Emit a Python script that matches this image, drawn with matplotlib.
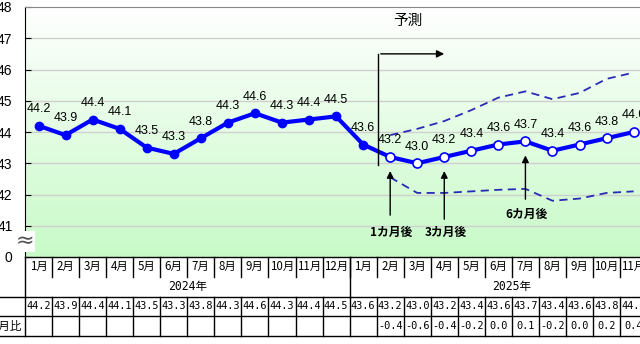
import numpy as np
import matplotlib
matplotlib.use('Agg')
import matplotlib.pyplot as plt
from matplotlib.colors import LinearSegmentedColormap

# 月ラベル（2024年1月〜2025年12月）
months = [f'{m}月' for m in range(1, 13)] * 2
years = ['2024年', '2025年']

# 実績（2024年1月〜2025年1月）
actual = [44.2, 43.9, 44.4, 44.1, 43.5, 43.3, 43.8, 44.3, 44.6, 44.3, 44.4, 44.5, 43.6]
# 予測（2025年2月〜11月）
forecast = [43.2, 43.0, 43.2, 43.4, 43.6, 43.7, 43.4, 43.6, 43.8, 44.0]
upper = [43.9, 44.1, 44.35, 44.7, 45.1, 45.3, 45.05, 45.25, 45.7, 45.9]
lower = [42.55, 42.05, 42.05, 42.1, 42.15, 42.18, 41.8, 41.87, 42.05, 42.1]
# 1月比
diff = [-0.4, -0.6, -0.4, -0.2, 0.0, 0.1, -0.2, 0.0, 0.2, 0.4]

yticks = [40, 41, 42, 43, 44, 45, 46, 47, 48]
ytick_labels = ['0', '41', '42', '43', '44', '45', '46', '47', '48']

JP = ['Noto Sans CJK JP', 'DejaVu Sans']
MONO = ['DejaVu Sans Mono', 'Noto Sans CJK JP']

W, H = 640, 344
col_w = 27.05
n_cols = 24
ax_left, ax_top, ax_bot, tbl_bot = 25, 7, 257, 336

fig = plt.figure(figsize=(W / 100, H / 100), dpi=100)
fig.patch.set_facecolor('white')
ax = fig.add_axes([ax_left / W, (H - ax_bot) / H, n_cols * col_w / W, (ax_bot - ax_top) / H])
tb = fig.add_axes([ax_left / W, (H - tbl_bot) / H, n_cols * col_w / W, (tbl_bot - ax_bot) / H])

# 背景グラデーション
cmap = LinearSegmentedColormap.from_list('g', ['#ffffff', '#c8fac8'])
ax.imshow(np.linspace(0, 1, 256).reshape(-1, 1), extent=[0, 1, 0, 1], transform=ax.transAxes,
          cmap=cmap, aspect='auto', zorder=0)

xa = np.arange(len(actual))
xf = np.arange(len(actual), len(actual) + len(forecast))
x_all = np.concatenate([xa, xf])
y_all = actual + forecast

for y in yticks[1:-1]:
    ax.axhline(y, color='#cfcfcf', lw=1, zorder=1)

ax.plot(xf, upper, color='#2a2ab8', lw=1.3, ls=(0, (4.5, 3)), zorder=2)
ax.plot(xf, lower, color='#2a2ab8', lw=1.3, ls=(0, (4.5, 3)), zorder=2)
ax.plot(x_all, y_all, color='#0000ff', lw=3, zorder=3)
ax.plot(xa, actual, 'o', color='#0000ff', ms=6, zorder=4)
ax.plot(xf, forecast, 'o', mfc='white', mec='#0000ff', mew=1.2, ms=6.5, zorder=4)

for x, v in zip(x_all, y_all):
    ax.annotate(f'{v:.1f}', (x, v), xytext=(0, 12), textcoords='offset points',
                ha='center', va='center', fontsize=9, family='Liberation Sans', zorder=5)

# 予測ブラケット
x0 = xf[0] - 0.45
ax.plot([x0, x0], [42.94, 46.5], color='black', lw=1, zorder=5)
ax.annotate('', xy=(x0 + 2.55, 46.5), xytext=(x0, 46.5),
            arrowprops=dict(arrowstyle='-|>', color='black', lw=1, mutation_scale=11))
ax.text(x0 + 1.1, 47.55, '予測', family=JP, fontsize=10.5, ha='center', va='center')

# 1カ月後・3カ月後・6カ月後
for k, tail, lab in [(0, 41.25, 40.8), (2, 41.12, 40.77), (5, 41.76, 41.35)]:
    xi, v = xf[k], forecast[k]
    ax.annotate('', xy=(xi, v - 0.36), xytext=(xi, tail),
                arrowprops=dict(arrowstyle='-|>', color='black', lw=1, mutation_scale=10))
    ax.text(xi + 0.05, lab, f'{k + 1}カ月後', family=JP, fontsize=8.5, fontweight='bold',
            ha='center', va='center')

ax.set_xlim(-0.5, n_cols - 0.5)
ax.set_ylim(40, 48)
ax.set_yticks(yticks)
ax.set_yticklabels(ytick_labels, fontsize=10, family='Liberation Sans')
ax.tick_params(axis='y', direction='in', length=4, pad=9)
ax.set_xticks([])
ax.spines['top'].set_color('#888888')
ax.spines['right'].set_visible(False)
ax.spines['bottom'].set_visible(False)
ax.spines['left'].set_color('black')

# 波線（軸の省略）
ax.text(0, 40.5, '≈', transform=ax.get_yaxis_transform(), fontsize=16, color='#555555',
        ha='center', va='center', zorder=6,
        bbox=dict(facecolor='white', edgecolor='none', pad=0.2), clip_on=False)

# 下の表
tb.set_xlim(-0.5, n_cols - 0.5)
tb.set_ylim(4, 0)
tb.axis('off')
lk = dict(color='black', lw=1, clip_on=False)
x_fig_left = -0.5 - ax_left / col_w
tb.plot([-0.5, n_cols - 0.5], [0, 0], **lk)
for r in [2, 3, 4]:
    tb.plot([x_fig_left, n_cols - 0.5], [r, r], **lk)
tb.plot([-0.5, -0.5], [0, 4], **lk)
for i in range(n_cols):
    tb.plot([i + 0.5, i + 0.5], [0, 1], **lk)
    tb.plot([i + 0.5, i + 0.5], [2, 4], **lk)
tb.plot([11.5, 11.5], [0, 2], **lk)

for i, m in enumerate(months):
    tb.text(i, 0.5, m, family=JP, fontsize=8.3, ha='center', va='center')
for j, yr in enumerate(years):
    tb.text(5.5 + 12 * j, 1.5, yr, family=MONO, fontsize=8.3, ha='center', va='center')
for x, v in zip(x_all, y_all):
    tb.text(x, 2.5, f'{v:.1f}', family=MONO, fontsize=7.4, ha='center', va='center')
for x, d in zip(xf, diff):
    tb.text(x, 3.5, f'{d:.1f}', family=MONO, fontsize=7.4, ha='center', va='center')
tb.text(-0.5 - 4 / col_w, 3.5, '1月比', family=JP, fontsize=8.3, ha='right', va='center', clip_on=False)

fig.savefig('out.png', dpi=100)
